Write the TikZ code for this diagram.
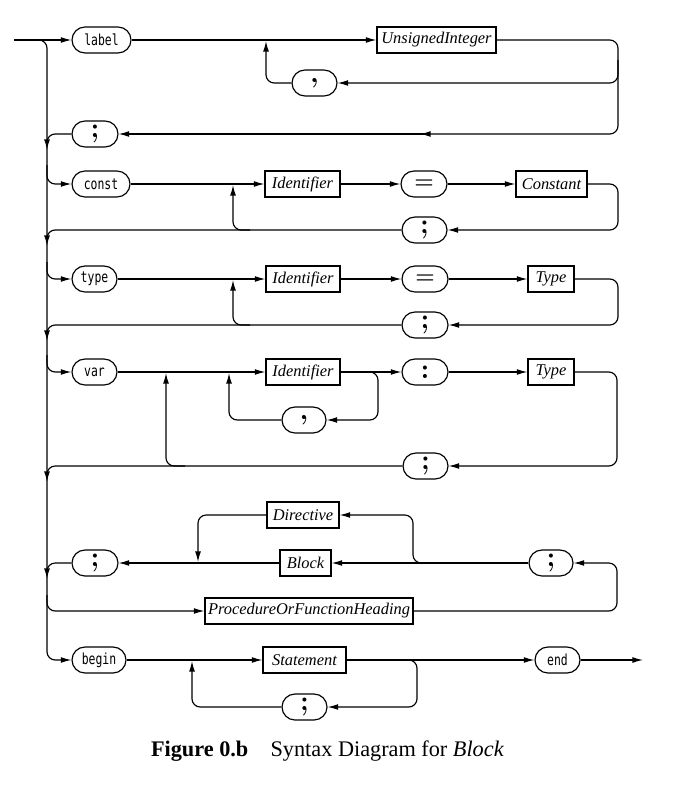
\documentclass[tikz,border=0pt]{standalone}
\usepackage{fontspec}
\newfontfamily\kwfont[FakeStretch=0.75]{DejaVu Sans Mono}
\newfontfamily\capfont{Liberation Serif}
\newfontfamily\boxfont{Liberation Serif}
\usetikzlibrary{shapes.misc,arrows.meta}
\begin{document}
\begin{tikzpicture}[x=0.03cm,y=-0.03cm, line width=1pt,
  wd/.style={minimum width=#1*0.03cm},
  kwn/.style={draw, rounded rectangle, minimum height=26*0.03cm, inner sep=0pt, font=\kwfont\fontsize{13}{14}\selectfont},
  sym/.style={draw, rounded rectangle, minimum height=26*0.03cm, inner sep=0pt, font=\fontsize{24}{24}\selectfont\bfseries},
  eqs/.style={sym, font=\fontsize{19}{19}\selectfont\bfseries},
  box/.style={draw, rectangle, minimum height=26*0.03cm, inner sep=0pt, font=\boxfont\fontsize{14}{15}\selectfont\itshape},
  arr/.style={-{Latex[length=9pt,width=5pt]}},
  rc/.style={rounded corners=7pt}]
\useasboundingbox (0,0) rectangle (675,790);

% ---- nodes ----
\node[kwn, wd=59] (nlabel) at (101.5,40) {label};
\node[box, wd=119] (nui) at (436.5,40) {UnsignedInteger};
\node[sym, wd=45] (ncomma1) at (314.5,83) {,};
\node[sym, wd=46] (nsemi1) at (95,134) {;};

\node[kwn, wd=58] (nconst) at (101,184) {const};
\node[box, wd=75] (nid1) at (302.5,184) {Identifier};
\node[eqs, wd=46] (neq1) at (424,184) {=};
\node[box, wd=71] (nconstant) at (551.5,184) {Constant};
\node[sym, wd=45] (nsemi2) at (424.5,230) {;};

\node[kwn, wd=45] (ntype) at (94.5,279) {type};
\node[box, wd=74] (nid2) at (303,279) {Identifier};
\node[eqs, wd=46] (neq2) at (425,279) {=};
\node[box, wd=46] (ntype1) at (551,279) {Type};
\node[sym, wd=46] (nsemi3) at (425,325) {;};

\node[kwn, wd=45] (nvar) at (94.5,372) {var};
\node[box, wd=74] (nid3) at (303,372) {Identifier};
\node[sym, wd=46] (ncolon) at (425,372) {:};
\node[box, wd=46] (ntype2) at (551,372) {Type};
\node[sym, wd=44] (ncomma2) at (304,420) {,};
\node[sym, wd=45] (nsemi4) at (425.5,466) {;};

\node[box, wd=72] (ndir) at (303,515) {Directive};
\node[box, wd=51] (nblock) at (305.5,563) {Block};
\node[sym, wd=46] (nsemi5) at (95,563) {;};
\node[sym, wd=44] (nsemi6) at (551,563) {;};
\node[box, wd=208] (npfh) at (309,611) {ProcedureOrFunctionHeading};

\node[kwn, wd=54] (nbegin) at (99,660) {begin};
\node[box, wd=83] (nstmt) at (304.5,660) {Statement};
\node[kwn, wd=45] (nend) at (557.5,660) {end};
\node[sym, wd=45] (nsemi7) at (304.5,707) {;};

\coordinate (start) at (14,40);
\coordinate (exit) at (643,660);

% ---- rail ----
\draw[rc, arr] (start) -| (47,660) -- (nbegin.west);
\draw[arr] (start) -- (nlabel.west);

% ---- label ----
\draw[arr] (nlabel.east) -- (nui.west);
\draw[rc, arr] (nui.east) -| (618,134) -- (420,134);
\draw[arr] (425,134) -- (nsemi1.east);
\draw[rc, arr] (618,60) |- (ncomma1.east);
\draw[rc, arr] (ncomma1.west) -| (266,41);
\draw[rc, arr] (nsemi1.west) -| (47,150);

% ---- const ----
\draw[rc, arr] (47,165) |- (nconst.west);
\draw[arr] (nconst.east) -- (nid1.west);
\draw[arr] (nid1.east) -- (neq1.west);
\draw[arr] (neq1.east) -- (nconstant.west);
\draw[rc, arr] (nconstant.east) -| (618,230) -- (nsemi2.east);
\draw[rc, arr] (nsemi2.west) -| (47,246);
\draw[rc, arr] (250,230) -| (233,185);

% ---- type ----
\draw[rc, arr] (47,262) |- (ntype.west);
\draw[arr] (ntype.east) -- (nid2.west);
\draw[arr] (nid2.east) -- (neq2.west);
\draw[arr] (neq2.east) -- (ntype1.west);
\draw[rc, arr] (ntype1.east) -| (618,325) -- (nsemi3.east);
\draw[rc, arr] (nsemi3.west) -| (47,341);
\draw[rc, arr] (250,325) -| (233,280);

% ---- var ----
\draw[rc, arr] (47,355) |- (nvar.west);
\draw[arr] (nvar.east) -- (nid3.west);
\draw[arr] (nid3.east) -- (ncolon.west);
\draw[arr] (ncolon.east) -- (ntype2.west);
\draw[rc, arr] (ntype2.east) -| (617,466) -- (nsemi4.east);
\draw[rc, arr] (nsemi4.west) -| (47,482);
\draw[rc, arr] (185,466) -| (166,373);
\draw[rc, arr] (355,372) -| (378,420) -- (ncomma2.east);
\draw[rc, arr] (ncomma2.west) -| (229,373);

% ---- procedures ----
\draw[rc, arr] (47,595) |- (npfh.west);
\draw[rc, arr] (npfh.east) -| (617,563) -- (nsemi6.east);
\draw[arr] (nsemi6.west) -- (nblock.east);
\draw[rc, arr] (440,563) -| (413,515) -- (ndir.east);
\draw[arr] (nblock.west) -- (nsemi5.east);
\draw[rc, arr] (ndir.west) -| (198,562);
\draw[rc, arr] (nsemi5.west) -| (47,579);

% ---- begin ----
\draw[arr] (nbegin.east) -- (nstmt.west);
\draw[arr] (nstmt.east) -- (nend.west);
\draw[arr] (nend.east) -- (exit);
\draw[rc, arr] (395,660) -| (417,707) -- (nsemi7.east);
\draw[rc, arr] (nsemi7.west) -| (192,661);

% ---- caption ----
\node[font=\capfont\fontsize{19}{22}\selectfont] (cap) at (327.5,751)
  {\textbf{Figure 0.b}\quad Syntax Diagram for \textit{Block}};
\end{tikzpicture}
\end{document}
